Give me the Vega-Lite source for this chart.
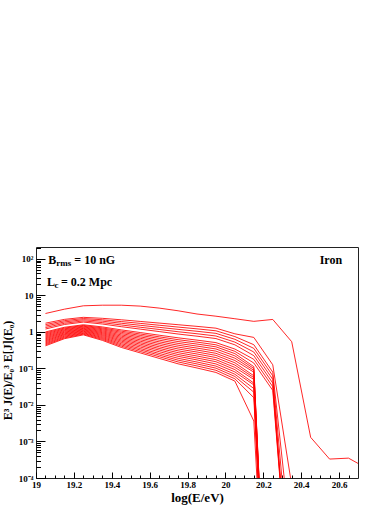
{
  "$schema": "https://vega.github.io/schema/vega-lite/v6.json",
  "width": 322,
  "height": 231,
  "autosize": "none",
  "padding": {"left": 36, "top": 247, "right": 32, "bottom": 27},
  "background": "white",
  "config": {"view": {"stroke": "#222", "strokeWidth": 1}, "font": "Liberation Serif"},
  "resolve": {"axis": {"x": "independent", "y": "independent"}},
  "datasets": {
    "curves": [
      {"c":"T","x":19.05,"y":3.2},{"c":"T","x":19.15,"y":4.2},{"c":"T","x":19.25,"y":5.2},{"c":"T","x":19.35,"y":5.4},{"c":"T","x":19.45,"y":5.4},{"c":"T","x":19.55,"y":5.1},{"c":"T","x":19.65,"y":4.5},{"c":"T","x":19.75,"y":3.8},{"c":"T","x":19.85,"y":3.1},{"c":"T","x":19.95,"y":2.7},{"c":"T","x":20.05,"y":2.3},{"c":"T","x":20.15,"y":1.95},{"c":"T","x":20.25,"y":2.2},{"c":"T","x":20.35,"y":0.54},{"c":"T","x":20.45,"y":0.0013},{"c":"T","x":20.55,"y":0.00033},{"c":"T","x":20.65,"y":0.00035},{"c":"T","x":20.75,"y":0.00018},
      {"c":"k0","x":19.05,"y":1.738},{"c":"k0","x":19.15,"y":2.208},{"c":"k0","x":19.25,"y":2.512},{"c":"k0","x":19.35,"y":2.36},{"c":"k0","x":19.45,"y":2.153},{"c":"k0","x":19.55,"y":1.941},{"c":"k0","x":19.65,"y":1.75},{"c":"k0","x":19.75,"y":1.578},{"c":"k0","x":19.85,"y":1.422},{"c":"k0","x":19.95,"y":1.268},{"c":"k0","x":20.05,"y":0.889},{"c":"k0","x":20.15,"y":0.708},{"c":"k0","x":20.25,"y":0.126},{"c":"k0","x":20.35,"y":0.000063},
      {"c":"k1","x":19.05,"y":1.585},{"c":"k1","x":19.15,"y":2.037},{"c":"k1","x":19.25,"y":2.328},{"c":"k1","x":19.35,"y":2.157},{"c":"k1","x":19.45,"y":1.926},{"c":"k1","x":19.55,"y":1.717},{"c":"k1","x":19.65,"y":1.527},{"c":"k1","x":19.75,"y":1.36},{"c":"k1","x":19.85,"y":1.215},{"c":"k1","x":19.95,"y":1.075},{"c":"k1","x":20.05,"y":0.746},{"c":"k1","x":20.15,"y":0.447},{"c":"k1","x":20.25,"y":0.0794},{"c":"k1","x":20.35,"y":0.00000126},
      {"c":"k2","x":19.05,"y":1.445},{"c":"k2","x":19.15,"y":1.879},{"c":"k2","x":19.25,"y":2.163},{"c":"k2","x":19.35,"y":1.971},{"c":"k2","x":19.45,"y":1.731},{"c":"k2","x":19.55,"y":1.522},{"c":"k2","x":19.65,"y":1.337},{"c":"k2","x":19.75,"y":1.176},{"c":"k2","x":19.85,"y":1.043},{"c":"k2","x":19.95,"y":0.914},{"c":"k2","x":20.05,"y":0.628},{"c":"k2","x":20.15,"y":0.355},{"c":"k2","x":20.25,"y":0.0631},{"c":"k2","x":20.35,"y":1e-7},
      {"c":"k3","x":19.05,"y":1.318},{"c":"k3","x":19.15,"y":1.73},{"c":"k3","x":19.25,"y":2.004},{"c":"k3","x":19.35,"y":1.801},{"c":"k3","x":19.45,"y":1.553},{"c":"k3","x":19.55,"y":1.346},{"c":"k3","x":19.65,"y":1.17},{"c":"k3","x":19.75,"y":1.014},{"c":"k3","x":19.85,"y":0.892},{"c":"k3","x":19.95,"y":0.775},{"c":"k3","x":20.05,"y":0.527},{"c":"k3","x":20.15,"y":0.282},{"c":"k3","x":20.25,"y":0.0501},{"c":"k3","x":20.35,"y":1e-8},
      {"c":"k4","x":19.05,"y":1.202},{"c":"k4","x":19.15,"y":1.6},{"c":"k4","x":19.25,"y":1.862},{"c":"k4","x":19.35,"y":1.649},{"c":"k4","x":19.45,"y":1.394},{"c":"k4","x":19.55,"y":1.195},{"c":"k4","x":19.65,"y":1.025},{"c":"k4","x":19.75,"y":0.877},{"c":"k4","x":19.85,"y":0.765},{"c":"k4","x":19.95,"y":0.659},{"c":"k4","x":20.05,"y":0.444},{"c":"k4","x":20.15,"y":0.224},{"c":"k4","x":20.25,"y":0.0398},{"c":"k4","x":20.35,"y":1e-8},
      {"c":"k5","x":19.05,"y":1.0},{"c":"k5","x":19.15,"y":1.343},{"c":"k5","x":19.25,"y":1.574},{"c":"k5","x":19.35,"y":1.374},{"c":"k5","x":19.45,"y":1.139},{"c":"k5","x":19.55,"y":0.964},{"c":"k5","x":19.65,"y":0.815},{"c":"k5","x":19.75,"y":0.691},{"c":"k5","x":19.85,"y":0.597},{"c":"k5","x":19.95,"y":0.51},{"c":"k5","x":20.05,"y":0.34},{"c":"k5","x":20.15,"y":0.178},{"c":"k5","x":20.25,"y":0.0316},{"c":"k5","x":20.35,"y":1e-8},
      {"c":"k6","x":19.05,"y":0.94},{"c":"k6","x":19.15,"y":1.276},{"c":"k6","x":19.25,"y":1.503},{"c":"k6","x":19.35,"y":1.291},{"c":"k6","x":19.45,"y":1.052},{"c":"k6","x":19.55,"y":0.879},{"c":"k6","x":19.65,"y":0.735},{"c":"k6","x":19.75,"y":0.614},{"c":"k6","x":19.85,"y":0.527},{"c":"k6","x":19.95,"y":0.445},{"c":"k6","x":20.05,"y":0.294},{"c":"k6","x":20.15,"y":0.141},{"c":"k6","x":20.25,"y":0.0251},{"c":"k6","x":20.35,"y":1e-8},
      {"c":"k7","x":19.05,"y":0.883},{"c":"k7","x":19.15,"y":1.213},{"c":"k7","x":19.25,"y":1.439},{"c":"k7","x":19.35,"y":1.218},{"c":"k7","x":19.45,"y":0.975},{"c":"k7","x":19.55,"y":0.803},{"c":"k7","x":19.65,"y":0.664},{"c":"k7","x":19.75,"y":0.546},{"c":"k7","x":19.85,"y":0.466},{"c":"k7","x":19.95,"y":0.391},{"c":"k7","x":20.05,"y":0.255},{"c":"k7","x":20.15,"y":0.112},{"c":"k7","x":20.25,"y":1e-12},
      {"c":"k8","x":19.05,"y":0.83},{"c":"k8","x":19.15,"y":1.151},{"c":"k8","x":19.25,"y":1.374},{"c":"k8","x":19.35,"y":1.147},{"c":"k8","x":19.45,"y":0.901},{"c":"k8","x":19.55,"y":0.732},{"c":"k8","x":19.65,"y":0.596},{"c":"k8","x":19.75,"y":0.486},{"c":"k8","x":19.85,"y":0.41},{"c":"k8","x":19.95,"y":0.342},{"c":"k8","x":20.05,"y":0.221},{"c":"k8","x":20.15,"y":0.1},{"c":"k8","x":20.25,"y":1e-12},
      {"c":"k9","x":19.05,"y":0.778},{"c":"k9","x":19.15,"y":1.094},{"c":"k9","x":19.25,"y":1.312},{"c":"k9","x":19.35,"y":1.078},{"c":"k9","x":19.45,"y":0.83},{"c":"k9","x":19.55,"y":0.669},{"c":"k9","x":19.65,"y":0.537},{"c":"k9","x":19.75,"y":0.433},{"c":"k9","x":19.85,"y":0.361},{"c":"k9","x":19.95,"y":0.298},{"c":"k9","x":20.05,"y":0.191},{"c":"k9","x":20.15,"y":0.0891},{"c":"k9","x":20.25,"y":1e-12},
      {"c":"k10","x":19.05,"y":0.731},{"c":"k10","x":19.15,"y":1.038},{"c":"k10","x":19.25,"y":1.253},{"c":"k10","x":19.35,"y":1.014},{"c":"k10","x":19.45,"y":0.767},{"c":"k10","x":19.55,"y":0.609},{"c":"k10","x":19.65,"y":0.484},{"c":"k10","x":19.75,"y":0.385},{"c":"k10","x":19.85,"y":0.319},{"c":"k10","x":19.95,"y":0.26},{"c":"k10","x":20.05,"y":0.165},{"c":"k10","x":20.15,"y":0.0794},{"c":"k10","x":20.25,"y":1e-12},
      {"c":"k11","x":19.05,"y":0.687},{"c":"k11","x":19.15,"y":0.986},{"c":"k11","x":19.25,"y":1.197},{"c":"k11","x":19.35,"y":0.955},{"c":"k11","x":19.45,"y":0.709},{"c":"k11","x":19.55,"y":0.556},{"c":"k11","x":19.65,"y":0.436},{"c":"k11","x":19.75,"y":0.342},{"c":"k11","x":19.85,"y":0.282},{"c":"k11","x":19.95,"y":0.228},{"c":"k11","x":20.05,"y":0.143},{"c":"k11","x":20.15,"y":0.0631},{"c":"k11","x":20.25,"y":1e-12},
      {"c":"k12","x":19.05,"y":0.646},{"c":"k12","x":19.15,"y":0.938},{"c":"k12","x":19.25,"y":1.146},{"c":"k12","x":19.35,"y":0.9},{"c":"k12","x":19.45,"y":0.655},{"c":"k12","x":19.55,"y":0.507},{"c":"k12","x":19.65,"y":0.393},{"c":"k12","x":19.75,"y":0.304},{"c":"k12","x":19.85,"y":0.249},{"c":"k12","x":19.95,"y":0.199},{"c":"k12","x":20.05,"y":0.124},{"c":"k12","x":20.15,"y":0.0562},{"c":"k12","x":20.25,"y":1e-12},
      {"c":"k13","x":19.05,"y":0.607},{"c":"k13","x":19.15,"y":0.889},{"c":"k13","x":19.25,"y":1.094},{"c":"k13","x":19.35,"y":0.847},{"c":"k13","x":19.45,"y":0.605},{"c":"k13","x":19.55,"y":0.464},{"c":"k13","x":19.65,"y":0.354},{"c":"k13","x":19.75,"y":0.271},{"c":"k13","x":19.85,"y":0.219},{"c":"k13","x":19.95,"y":0.174},{"c":"k13","x":20.05,"y":0.107},{"c":"k13","x":20.15,"y":0.0501},{"c":"k13","x":20.25,"y":1e-12},
      {"c":"k14","x":19.05,"y":0.57},{"c":"k14","x":19.15,"y":0.847},{"c":"k14","x":19.25,"y":1.047},{"c":"k14","x":19.35,"y":0.799},{"c":"k14","x":19.45,"y":0.56},{"c":"k14","x":19.55,"y":0.423},{"c":"k14","x":19.65,"y":0.32},{"c":"k14","x":19.75,"y":0.241},{"c":"k14","x":19.85,"y":0.193},{"c":"k14","x":19.95,"y":0.153},{"c":"k14","x":20.05,"y":0.0929},{"c":"k14","x":20.15,"y":0.0398},{"c":"k14","x":20.25,"y":1e-12},
      {"c":"k15","x":19.05,"y":0.536},{"c":"k15","x":19.15,"y":0.804},{"c":"k15","x":19.25,"y":1.0},{"c":"k15","x":19.35,"y":0.751},{"c":"k15","x":19.45,"y":0.518},{"c":"k15","x":19.55,"y":0.386},{"c":"k15","x":19.65,"y":0.288},{"c":"k15","x":19.75,"y":0.215},{"c":"k15","x":19.85,"y":0.171},{"c":"k15","x":19.95,"y":0.133},{"c":"k15","x":20.05,"y":0.0804},{"c":"k15","x":20.15,"y":0.0355},{"c":"k15","x":20.25,"y":1e-12},
      {"c":"k16","x":19.05,"y":0.502},{"c":"k16","x":19.15,"y":0.762},{"c":"k16","x":19.25,"y":0.953},{"c":"k16","x":19.35,"y":0.706},{"c":"k16","x":19.45,"y":0.477},{"c":"k16","x":19.55,"y":0.351},{"c":"k16","x":19.65,"y":0.258},{"c":"k16","x":19.75,"y":0.19},{"c":"k16","x":19.85,"y":0.15},{"c":"k16","x":19.95,"y":0.116},{"c":"k16","x":20.05,"y":0.0695},{"c":"k16","x":20.15,"y":0.0282},{"c":"k16","x":20.25,"y":1e-12},
      {"c":"k17","x":19.05,"y":0.472},{"c":"k17","x":19.15,"y":0.724},{"c":"k17","x":19.25,"y":0.912},{"c":"k17","x":19.35,"y":0.665},{"c":"k17","x":19.45,"y":0.441},{"c":"k17","x":19.55,"y":0.321},{"c":"k17","x":19.65,"y":0.233},{"c":"k17","x":19.75,"y":0.169},{"c":"k17","x":19.85,"y":0.133},{"c":"k17","x":19.95,"y":0.102},{"c":"k17","x":20.05,"y":0.0603},{"c":"k17","x":20.15,"y":0.0224},{"c":"k17","x":20.25,"y":1e-12},
      {"c":"k18","x":19.05,"y":0.444},{"c":"k18","x":19.15,"y":0.687},{"c":"k18","x":19.25,"y":0.871},{"c":"k18","x":19.35,"y":0.626},{"c":"k18","x":19.45,"y":0.408},{"c":"k18","x":19.55,"y":0.292},{"c":"k18","x":19.65,"y":0.21},{"c":"k18","x":19.75,"y":0.151},{"c":"k18","x":19.85,"y":0.117},{"c":"k18","x":19.95,"y":0.0892},{"c":"k18","x":20.05,"y":0.0521},{"c":"k18","x":20.15,"y":0.0158},{"c":"k18","x":20.25,"y":1e-12},
      {"c":"k19","x":19.05,"y":0.417},{"c":"k19","x":19.15,"y":0.653},{"c":"k19","x":19.25,"y":0.832},{"c":"k19","x":19.35,"y":0.589},{"c":"k19","x":19.45,"y":0.377},{"c":"k19","x":19.55,"y":0.267},{"c":"k19","x":19.65,"y":0.189},{"c":"k19","x":19.75,"y":0.134},{"c":"k19","x":19.85,"y":0.103},{"c":"k19","x":19.95,"y":0.0778},{"c":"k19","x":20.05,"y":0.0451},{"c":"k19","x":20.15,"y":0.00363},{"c":"k19","x":20.25,"y":1e-12}
    ]
  },
  "layer": [
    {
      "data": {"name": "curves"},
      "mark": {"type": "line", "clip": true, "color": "#ff0000", "strokeWidth": 0.85},
      "encoding": {
        "x": {
          "field": "x", "type": "quantitative",
          "scale": {"domain": [19, 20.7], "nice": false, "zero": false},
          "axis": {
            "orient": "bottom",
            "values": [19,19.2,19.4,19.6,19.8,20,20.2,20.4,20.6],
            "format": "~g",
            "offset": -6,
            "tickSize": 6,
            "labelPadding": 2,
            "labelFont": "Liberation Serif", "labelFontWeight": "bold", "labelFontSize": 9, "labelColor": "#000",
            "labelOverlap": false, "labelFlush": false,
            "tickColor": "#000", "domain": false, "grid": false,
            "title": "log(E/eV)", "titleFont": "Liberation Serif", "titleFontSize": 13, "titleFontWeight": "bold", "titleColor": "#000", "titlePadding": 2
          }
        },
        "y": {
          "field": "y", "type": "quantitative",
          "scale": {"type": "log", "domain": [0.0001, 212], "nice": false},
          "axis": {
            "orient": "left",
            "values": [0.0001,0.001,0.01,0.1,1,10,100],
            "labelExpr": "datum.value == 100 ? '10²' : datum.value == 10 ? '10' : datum.value == 1 ? '1' : datum.value == 0.1 ? '10⁻¹' : datum.value == 0.01 ? '10⁻²' : datum.value == 0.001 ? '10⁻³' : '10⁻⁴'",
            "offset": -9,
            "tickSize": 9,
            "labelPadding": 3,
            "labelFont": "Liberation Serif", "labelFontWeight": "bold", "labelFontSize": 9, "labelColor": "#000",
            "labelOverlap": false, "labelFlush": false,
            "tickColor": "#000", "domain": false, "grid": false,
            "title": "E³ J(E)/E₀³ E[J](E₀)", "titleFont": "Liberation Serif", "titleFontSize": 12, "titleFontWeight": "bold", "titleColor": "#000",
            "titlePadding": 4, "titleY": 123
          }
        },
        "detail": {"field": "c"},
        "strokeWidth": {"condition": {"test": "datum.c === 'T'", "value": 1.5}, "value": 0.85}
      }
    },
    {
      "data": {"values": [{"x": 20.616, "y": 96, "t": "Iron"}]},
      "mark": {"type": "text", "align": "right", "baseline": "middle", "font": "Liberation Serif", "fontWeight": "bold", "fontSize": 12, "color": "#000"},
      "encoding": {
        "x": {"field": "x", "type": "quantitative", "axis": {
          "orient": "bottom",
          "values": [19.05,19.1,19.15,19.25,19.3,19.35,19.45,19.5,19.55,19.65,19.7,19.75,19.85,19.9,19.95,20.05,20.1,20.15,20.25,20.3,20.35,20.45,20.5,20.55,20.65],
          "offset": -3, "tickSize": 3, "labels": false, "title": null, "domain": false, "grid": false, "tickColor": "#000"}},
        "y": {"field": "y", "type": "quantitative", "axis": {
          "orient": "left",
          "values": [0.0002,0.0003,0.0004,0.0005,0.0006,0.0007,0.0008,0.0009,0.002,0.003,0.004,0.005,0.006,0.007,0.008,0.009,0.02,0.03,0.04,0.05,0.06,0.07,0.08,0.09,0.2,0.3,0.4,0.5,0.6,0.7,0.8,0.9,2,3,4,5,6,7,8,9,20,30,40,50,60,70,80,90,200],
          "offset": -4.5, "tickSize": 4.5, "labels": false, "title": null, "domain": false, "grid": false, "tickColor": "#000"}},
        "text": {"field": "t"}
      }
    },
    {
      "data": {"values": [{"x": 19.065, "y": 96, "t": "B"}, {"x": 19.058, "y": 22.8, "t": "L"}]},
      "mark": {"type": "text", "align": "left", "baseline": "middle", "font": "Liberation Serif", "fontWeight": "bold", "fontSize": 12, "color": "#000"},
      "encoding": {"x": {"field": "x", "type": "quantitative", "axis": null}, "y": {"field": "y", "type": "quantitative", "axis": null}, "text": {"field": "t"}}
    },
    {
      "data": {"values": [{"x": 19.065, "y": 96, "t": "rms"}]},
      "mark": {"type": "text", "align": "left", "baseline": "middle", "font": "Liberation Serif", "fontWeight": "bold", "fontSize": 9, "dx": 8, "dy": 3, "color": "#000"},
      "encoding": {"x": {"field": "x", "type": "quantitative", "axis": null}, "y": {"field": "y", "type": "quantitative", "axis": null}, "text": {"field": "t"}}
    },
    {
      "data": {"values": [{"x": 19.065, "y": 96, "t": "= 10 nG"}]},
      "mark": {"type": "text", "align": "left", "baseline": "middle", "font": "Liberation Serif", "fontWeight": "bold", "fontSize": 12, "dx": 26, "color": "#000"},
      "encoding": {"x": {"field": "x", "type": "quantitative", "axis": null}, "y": {"field": "y", "type": "quantitative", "axis": null}, "text": {"field": "t"}}
    },
    {
      "data": {"values": [{"x": 19.058, "y": 22.8, "t": "c"}]},
      "mark": {"type": "text", "align": "left", "baseline": "middle", "font": "Liberation Serif", "fontWeight": "bold", "fontSize": 9, "dx": 7.5, "dy": 3, "color": "#000"},
      "encoding": {"x": {"field": "x", "type": "quantitative", "axis": null}, "y": {"field": "y", "type": "quantitative", "axis": null}, "text": {"field": "t"}}
    },
    {
      "data": {"values": [{"x": 19.058, "y": 22.8, "t": "= 0.2 Mpc"}]},
      "mark": {"type": "text", "align": "left", "baseline": "middle", "font": "Liberation Serif", "fontWeight": "bold", "fontSize": 12, "dx": 14, "color": "#000"},
      "encoding": {"x": {"field": "x", "type": "quantitative", "axis": null}, "y": {"field": "y", "type": "quantitative", "axis": null}, "text": {"field": "t"}}
    }
  ]
}
